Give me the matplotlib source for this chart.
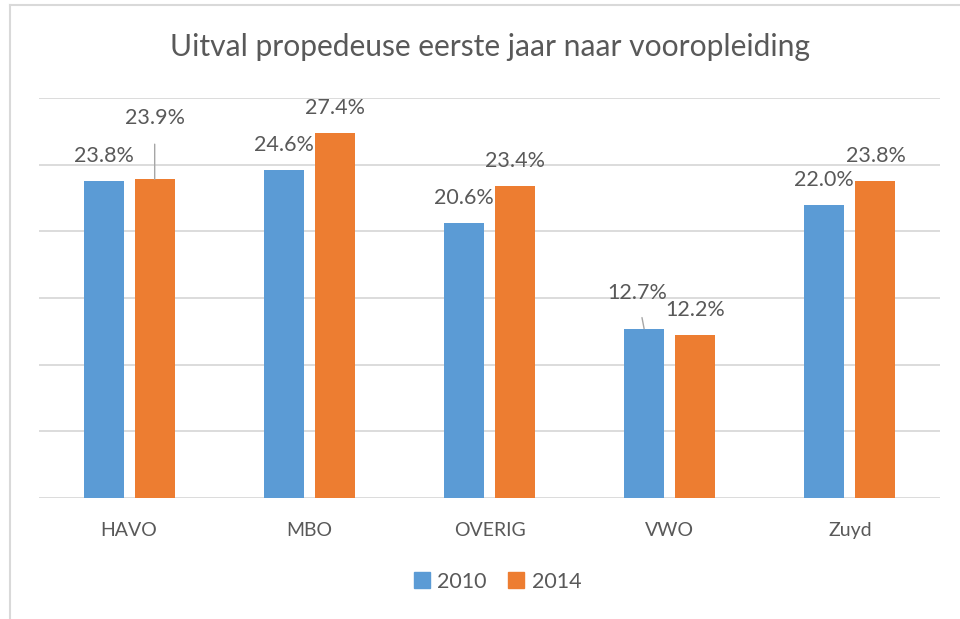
import matplotlib.pyplot as plt
import numpy as np
from matplotlib.lines import Line2D

# data
categories = ['HAVO', 'MBO', 'OVERIG', 'VWO', 'Zuyd']
uitval_2010 = [23.8, 24.6, 20.6, 12.7, 22.0]
uitval_2014 = [23.9, 27.4, 23.4, 12.2, 23.8]
series_names = ['2010', '2014']

blue = '#5B9BD5'
orange = '#ED7D31'
text_grey = '#595959'
grid_grey = '#D9D9D9'

plt.rcParams['font.family'] = ['Lato', 'DejaVu Sans']

fig = plt.figure(figsize=(9.6, 6.19), dpi=100)
ax = fig.add_axes([39 / 960, 1 - 498 / 619, 901 / 960, 400 / 619])

x = np.arange(len(categories))
w = 0.222
off = 0.142
bars1 = ax.bar(x - off, uitval_2010, w, color=blue, zorder=3)
bars2 = ax.bar(x + off, uitval_2014, w, color=orange, zorder=3)

ax.set_xlim(-0.5, len(categories) - 0.5)
ax.set_ylim(0, 30)
ax.set_yticks(np.arange(0, 31, 5))
ax.set_yticklabels([])
ax.tick_params(axis='both', length=0)
ax.set_xticks(x)
ax.set_xticklabels(categories, fontsize=14, color=text_grey)
ax.tick_params(axis='x', pad=17)
ax.grid(axis='y', color=grid_grey, linewidth=1.3, zorder=0)
for s in ax.spines.values():
    s.set_visible(False)

# data labels, two of them pulled out with a leader line
label_kw = dict(ha='center', va='center', fontsize=15.5, color=text_grey,
                textcoords='offset points')
for i, v in enumerate(uitval_2010):
    if categories[i] == 'VWO':
        ax.annotate(f'{v:.1f}%', xy=(x[i] - off, v), xytext=(-5, 26),
                    arrowprops=dict(arrowstyle='-', color='#A6A6A6', lw=1,
                                    shrinkA=9, shrinkB=0), **label_kw)
    else:
        ax.annotate(f'{v:.1f}%', xy=(x[i] - off, v), xytext=(0, 18), **label_kw)
for i, v in enumerate(uitval_2014):
    if categories[i] == 'HAVO':
        ax.annotate(f'{v:.1f}%', xy=(x[i] + off, v), xytext=(0, 44.5),
                    arrowprops=dict(arrowstyle='-', color='#A6A6A6', lw=1,
                                    shrinkA=10, shrinkB=0), **label_kw)
    else:
        ax.annotate(f'{v:.1f}%', xy=(x[i] + off, v), xytext=(0, 18), **label_kw)

fig.text(490 / 960, 1 - 47 / 619, 'Uitval propedeuse eerste jaar naar vooropleiding',
         ha='center', va='center', fontsize=21.6, color=text_grey)

handles = [Line2D([], [], marker='s', linestyle='', markersize=11, color=c)
           for c in (blue, orange)]
fig.legend(handles, series_names, loc='center', bbox_to_anchor=(495 / 960, 1 - 582 / 619),
           ncol=2, frameon=False, fontsize=15.5, labelcolor=text_grey,
           handletextpad=0.1, columnspacing=0.8, handlelength=1.2)

# frame edges visible in the screenshot
fig.add_artist(Line2D([9.5 / 960, 9.5 / 960], [0, 1 - 5 / 619], color=grid_grey, lw=1.5))
fig.add_artist(Line2D([9.5 / 960, 1], [1 - 5 / 619, 1 - 5 / 619], color=grid_grey, lw=1.5))

fig.savefig('out.png', dpi=100)
